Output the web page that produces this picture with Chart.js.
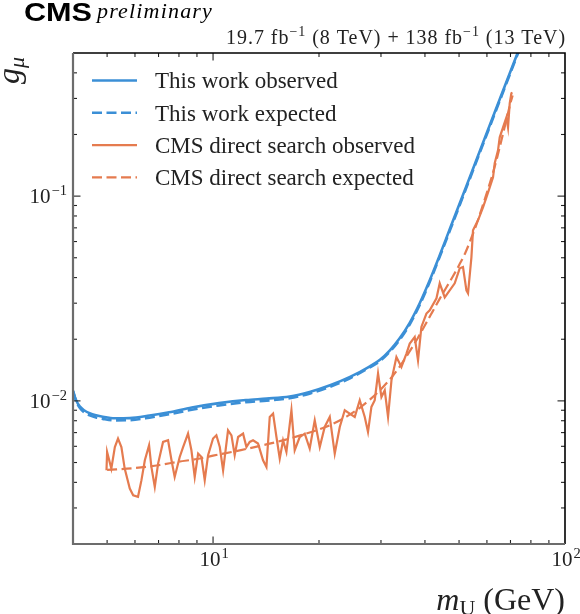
<!DOCTYPE html>
<html><head><meta charset="utf-8">
<script src="https://cdn.jsdelivr.net/npm/chart.js@4.4.1/dist/chart.umd.min.js"></script>
<style>html,body{margin:0;padding:0;background:#fff;}canvas{display:block;}</style>
</head><body>
<canvas id="c" width="580" height="614"></canvas>
<script>
// ---------- data ----------
const seriesLabels = ['This work observed', 'This work expected', 'CMS direct search observed', 'CMS direct search expected'];

const thisObsMass = [4.0, 4.08, 4.18, 4.3, 4.46, 4.65, 4.86, 5.26, 5.8, 6.6, 7.5, 8.7, 10.4, 12.4, 14.2, 16.5, 18.8, 21.5, 24.5, 27.9, 29.8, 31.8, 33.9, 36.2, 38.65, 41.27, 44.06, 47.03, 52.47, 58.48, 65.24, 72.78, 76.8];
const thisObsG    = [0.0112, 0.0101, 0.0094, 0.0090, 0.0087, 0.0085, 0.00836, 0.00822, 0.00824, 0.00848, 0.0088, 0.00928, 0.00975, 0.0101, 0.01026, 0.0105, 0.01105, 0.01192, 0.01309, 0.01476, 0.01588, 0.01766, 0.02021, 0.02405, 0.02996, 0.0388, 0.0514, 0.06885, 0.1121, 0.1823, 0.2970, 0.4836, 0.61];

const thisExpMass = [4.0, 4.08, 4.18, 4.3, 4.46, 4.65, 4.86, 5.26, 5.8, 6.6, 7.5, 8.7, 10.4, 12.4, 14.2, 16.5, 18.8, 21.5, 24.5, 27.9, 29.8, 31.8, 33.9, 36.2, 38.65, 41.27, 44.06, 47.03, 52.47, 58.48, 65.24, 72.78, 76.8];
const thisExpG    = [0.0112, 0.0100, 0.00925, 0.0088, 0.0085, 0.0083, 0.00817, 0.00803, 0.00805, 0.00828, 0.0086, 0.00905, 0.0095, 0.00985, 0.01003, 0.0103, 0.01085, 0.01172, 0.0129, 0.01458, 0.01565, 0.01740, 0.01985, 0.0236, 0.0294, 0.0381, 0.0505, 0.0675, 0.1100, 0.1790, 0.2920, 0.4760, 0.60];

const cmsObsMass = [4.98,5.00,5.14,5.26,5.37,5.49,5.61,5.80,5.93,6.12,
  6.26,6.40,6.58,6.68,6.83,6.98,7.21,7.45,7.62,7.78,
  8.04,8.22,8.49,8.68,8.87,9.07,9.27,9.47,9.68,10.0,
  10.22,10.45,10.68,11.03,11.28,11.52,11.78,12.17,12.44,12.71,
  12.99,13.42,13.87,14.18,14.49,14.81,15.14,15.47,15.81,16.16,
  16.70,17.06,17.63,18.22,18.82,19.45,20.10,20.76,21.46,22.17,
  22.91,23.67,24.45,25.27,26.11,26.98,27.56,28.18,28.80,29.43,
  30.09,30.75,31.42,32.13,33.19,34.29,35.44,36.21,37.41,38.23,
  39.08,40.39,41.27,43.13,44.06,45.53,47.03,48.60,50.22,51.31,
  52.47,53.02,54.21,54.78,56.60,58.48,59.80,61.11,62.45,63.14,
  64.52,65.24,66.67,68.16,68.88,69.65,70.42,70.80];
const cmsObsG = [0.00458,0.00563,0.00467,0.00595,0.00655,0.00595,0.00467,0.00373,0.00346,0.00340,
  0.00410,0.00513,0.00607,0.00476,0.00380,0.00494,0.00630,0.00642,0.00513,0.00425,
  0.00532,0.00595,0.00692,0.00574,0.00425,0.00553,0.00532,0.00410,0.00543,0.00655,
  0.00679,0.00595,0.00458,0.00718,0.00679,0.00543,0.00666,0.00692,0.00595,0.00630,
  0.00642,0.00619,0.00513,0.00476,0.00835,0.00867,0.00666,0.00523,0.00642,0.00563,
  0.00900,0.00574,0.00666,0.00692,0.00585,0.00804,0.00595,0.00746,0.00835,0.00553,
  0.00746,0.00900,0.00867,0.00835,0.01007,0.00835,0.00705,0.00934,0.01007,0.01359,
  0.01045,0.01127,0.00835,0.01260,0.01638,0.01464,0.01702,0.01905,0.02051,0.01578,
  0.02296,0.02669,0.02770,0.03170,0.03752,0.03206,0.03467,0.03752,0.04442,0.04507,
  0.03467,0.03353,0.05025,0.06808,0.07617,0.08816,0.09865,0.1104,0.1235,0.1446,
  0.1673,0.1937,0.2167,0.2425,0.2167,0.2839,0.3177,0.3212];

const cmsExpMass = [5.0, 6.0, 7.0, 8.0, 9.0, 10, 12, 14, 16, 18, 20, 22, 24, 26, 28, 30, 32, 34, 36, 38, 40, 42, 44, 46, 48, 50, 52, 54, 56, 58, 60, 62, 64, 66, 68, 70, 71];
const cmsExpG    = [0.0046, 0.0047, 0.00485, 0.00505, 0.0052, 0.0054, 0.00575, 0.0061, 0.00645, 0.00685, 0.00725, 0.00775, 0.0084, 0.0092, 0.0102, 0.0114, 0.0129, 0.0148, 0.0172, 0.0200, 0.0234, 0.0272, 0.0314, 0.0358, 0.0405, 0.0460, 0.0525, 0.0615, 0.0725, 0.0870, 0.1040, 0.1250, 0.1520, 0.1880, 0.2320, 0.2850, 0.310];

const xRange = [4, 100];
const yRange = [0.002, 0.5];
const xMajorTicks = [10, 100];
const xMinorTicks = [5, 6, 7, 8, 9, 20, 30, 40, 50, 60, 70, 80, 90];
const yMajorTicks = [0.01, 0.1];
const yMinorTicks = [0.003, 0.004, 0.005, 0.006, 0.007, 0.008, 0.009, 0.02, 0.03, 0.04, 0.05, 0.06, 0.07, 0.08, 0.09, 0.2, 0.3, 0.4];
const xTickLabels = [['10', '1'], ['10', '2']];
const yTickLabels = [['10', '\u22122'], ['10', '\u22121']];
const xTitle = [['m', 'it'], ['U', 'sub'], [' (GeV)', 'rm']];
const yTitle = [['g', 'it'], ['\u03bc', 'subit']];
const headerCMS = 'CMS';
const headerPrelim = 'preliminary';
const lumiParts = [['19.7 fb', 0], ['\u22121', 1], [' (8 TeV) + 138 fb', 0], ['\u22121', 1], [' (13 TeV)', 0]];

// ---------- styling ----------
const BLUE = '#3b8fd6';
const ORANGE = '#e57b4f';
const SERIF = '"Liberation Serif", "DejaVu Serif", serif';
const SANS = '"Liberation Sans", Arial, sans-serif';

function pairs(xs, ys) { return xs.map((v, i) => ({ x: v, y: ys[i] })); }

function fitText(ctx, text, x, y, width) {
  ctx.letterSpacing = '0px';
  const w = ctx.measureText(text).width;
  const n = [...text].length;
  if ('letterSpacing' in ctx) {
    ctx.letterSpacing = ((width - w) / n) + 'px';
    ctx.fillText(text, x, y);
    ctx.letterSpacing = '0px';
  } else {
    ctx.save(); ctx.translate(x, y); ctx.scale(width / w, 1); ctx.fillText(text, 0, 0); ctx.restore();
  }
}

function supLabel(ctx, base, sup, x, y, align) {
  ctx.font = '21px ' + SERIF;
  const wb = ctx.measureText(base).width;
  ctx.font = '14.5px ' + SERIF;
  const ws = ctx.measureText(sup).width;
  const tot = wb + ws + 1;
  let x0 = align === 'right' ? x - tot : x - tot / 2;
  ctx.textAlign = 'left';
  ctx.font = '21px ' + SERIF;
  ctx.fillText(base, x0, y);
  ctx.font = '14.5px ' + SERIF;
  ctx.fillText(sup, x0 + wb + 1, y - 8);
}

const decor = {
  id: 'decor',
  afterDatasetsDraw(chart) {
    const { ctx, chartArea: a, scales: { x, y } } = chart;
    ctx.save();
    const seg = (x1, y1, x2, y2) => { ctx.beginPath(); ctx.moveTo(x1, y1); ctx.lineTo(x2, y2); ctx.stroke(); };
    // ticks (inward, all four sides)
    ctx.strokeStyle = '#222'; ctx.lineWidth = 1.1;
    const xt = (vals, len) => vals.forEach(v => {
      const p = x.getPixelForValue(v);
      if (p < a.left + 1 || p > a.right - 1) return;
      seg(p, a.bottom, p, a.bottom - len); seg(p, a.top, p, a.top + len);
    });
    const yt = (vals, len) => vals.forEach(v => {
      const p = y.getPixelForValue(v);
      if (p < a.top + 1 || p > a.bottom - 1) return;
      seg(a.left, p, a.left + len, p); seg(a.right, p, a.right - len, p);
    });
    xt(xMinorTicks, 4); xt(xMajorTicks, 7.5); yt(yMinorTicks, 4); yt(yMajorTicks, 7.5);
    // frame
    ctx.strokeStyle = '#000'; ctx.lineWidth = 1.6;
    ctx.beginPath(); ctx.moveTo(a.left, a.top); ctx.lineTo(a.right, a.top); ctx.lineTo(a.right, a.bottom); ctx.stroke();
    ctx.strokeStyle = '#6c6c6c'; ctx.lineWidth = 2.2;
    ctx.beginPath(); ctx.moveTo(a.left, a.top); ctx.lineTo(a.left, a.bottom); ctx.lineTo(a.right, a.bottom); ctx.stroke();

    // tick labels
    ctx.fillStyle = '#222'; ctx.textBaseline = 'alphabetic';
    xMajorTicks.forEach((v, i) => {
      supLabel(ctx, xTickLabels[i][0], xTickLabels[i][1], x.getPixelForValue(v) + 1, a.bottom + 22, 'center');
    });
    yMajorTicks.forEach((v, i) => {
      supLabel(ctx, yTickLabels[i][0], yTickLabels[i][1], a.left - 6, y.getPixelForValue(v) + 7, 'right');
    });

    // x title (right aligned)
    const fonts = { it: 'italic 32px ' + SERIF, rm: '32px ' + SERIF, sub: '22px ' + SERIF, subit: 'italic 22px ' + SERIF };
    let tw = 0;
    xTitle.forEach(([t, f]) => { ctx.font = fonts[f]; tw += ctx.measureText(t).width; });
    let cx = a.right - tw;
    xTitle.forEach(([t, f]) => {
      ctx.font = fonts[f];
      ctx.fillText(t, cx, f === 'sub' ? 615 : 610);
      cx += ctx.measureText(t).width;
    });
    // y title (rotated)
    ctx.save();
    ctx.translate(19, 84); ctx.rotate(-Math.PI / 2);
    let cy = 0;
    yTitle.forEach(([t, f]) => {
      ctx.font = fonts[f];
      ctx.fillText(t, cy, f === 'subit' ? 5 : 0);
      cy += ctx.measureText(t).width;
    });
    ctx.restore();

    // legend (inside plot, from the datasets)
    chart.data.datasets.forEach((ds, i) => {
      const ry = a.top + 27.5 + 32.3 * i;
      ctx.save();
      ctx.strokeStyle = ds.borderColor; ctx.lineWidth = ds.borderWidth;
      ctx.setLineDash(ds.borderDash || []);
      seg(a.left + 19, ry, a.left + 64, ry);
      ctx.restore();
      ctx.fillStyle = '#222';
      ctx.font = '23px ' + SERIF;
      ctx.fillText(ds.label, a.left + 82, ry + 7.8);
    });

    // header
    ctx.fillStyle = '#000';
    ctx.font = 'bold 25px ' + SANS;
    const wc = ctx.measureText(headerCMS).width;
    ctx.save(); ctx.translate(24, 21); ctx.scale(68 / wc, 1); ctx.fillText(headerCMS, 0, 0); ctx.restore();
    ctx.font = 'italic 22px ' + SERIF;
    fitText(ctx, headerPrelim, 97, 18, 116);

    // luminosity (right aligned at the plot edge)
    ctx.fillStyle = '#222';
    const lf = ['20px ' + SERIF, '14px ' + SERIF];
    let lw = 0, nch = 0;
    lumiParts.forEach(([t, s]) => { ctx.font = lf[s]; lw += ctx.measureText(t).width; nch += [...t].length; });
    const target = 340;
    const ls = Math.max(0, (target - lw) / nch);
    let lx = a.right + 1 - target;
    lumiParts.forEach(([t, s]) => {
      ctx.font = lf[s];
      ctx.letterSpacing = ls + 'px';
      ctx.fillText(t, lx, s ? 36 : 44);
      lx += ctx.measureText(t).width;
      ctx.letterSpacing = '0px';
    });
    ctx.restore();
  }
};

new Chart(document.getElementById('c'), {
  type: 'line',
  data: {
    datasets: [
      { label: seriesLabels[0], data: pairs(thisObsMass, thisObsG), borderColor: BLUE, borderWidth: 2.6, cubicInterpolationMode: 'monotone', pointRadius: 0, fill: false, clip: 0 },
      { label: seriesLabels[1], data: pairs(thisExpMass, thisExpG), borderColor: BLUE, borderWidth: 2.6, borderDash: [10, 4.5], cubicInterpolationMode: 'monotone', pointRadius: 0, fill: false, clip: 0 },
      { label: seriesLabels[2], data: pairs(cmsObsMass, cmsObsG), borderColor: ORANGE, borderWidth: 2.2, tension: 0, pointRadius: 0, fill: false, clip: 0 },
      { label: seriesLabels[3], data: pairs(cmsExpMass, cmsExpG), borderColor: ORANGE, borderWidth: 2.2, borderDash: [10, 4.5], cubicInterpolationMode: 'monotone', pointRadius: 0, fill: false, clip: 0 }
    ]
  },
  options: {
    responsive: false,
    animation: false,
    events: [],
    layout: { padding: { left: 73, right: 15, top: 53, bottom: 70 } },
    scales: {
      x: { type: 'logarithmic', min: xRange[0], max: xRange[1], display: false },
      y: { type: 'logarithmic', min: yRange[0], max: yRange[1], display: false }
    },
    plugins: { legend: { display: false }, tooltip: { enabled: false } }
  },
  plugins: [decor]
});
</script>
</body></html>
